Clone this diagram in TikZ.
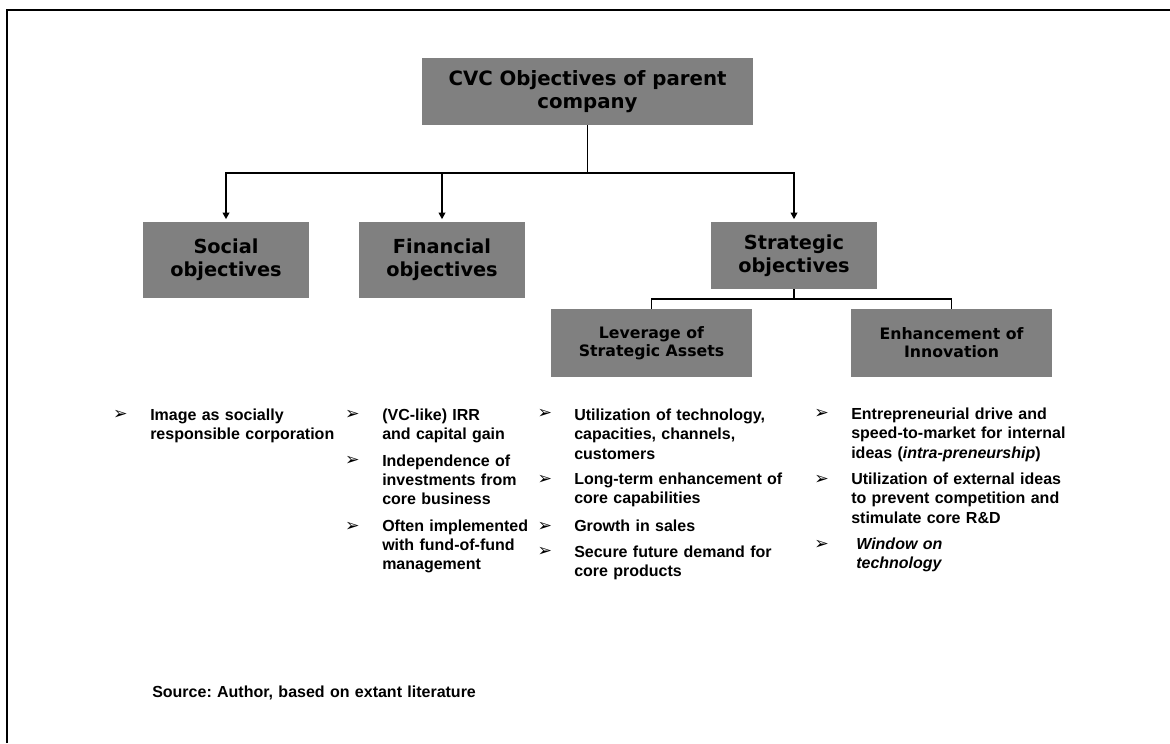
\documentclass[tikz,border=0pt]{standalone}
\usepackage{fontspec}
\setmainfont{Liberation Sans}
\newfontfamily\boxfont{DejaVu Sans}
\newfontfamily\symfont{DejaVu Sans}
\usetikzlibrary{arrows.meta}
\definecolor{boxgray}{HTML}{808080}
\newdimen\pxu \pxu=0.75pt
\frenchspacing

\begin{document}
\begin{tikzpicture}[x=0.75pt,y=-0.75pt,
  box/.style={fill=boxgray, inner sep=0pt, align=center},
  bigbox/.style={box, font=\boxfont\bfseries\fontsize{14.8}{17.25}\selectfont},
  midbox/.style={box, font=\boxfont\bfseries\fontsize{14.5}{17.25}\selectfont},
  smallbox/.style={box, font=\boxfont\bfseries\fontsize{11.8}{13.5}\selectfont},
  conn/.style={line width=1.25pt},
  subconn/.style={line width=1pt},
  tip/.style={-{Triangle[width=5pt,length=5pt]}, shorten >=2.5*\pxu},
  bulletmark/.style={inner sep=0pt, font=\symfont\fontsize{13}{13}\selectfont},
  btext/.style={anchor=base west, inner sep=0pt, text width=260pt, align=left,
    font=\bfseries\fontsize{12}{14.6}\selectfont},
]
\useasboundingbox (0,0) rectangle (1170,743);

% outer frame
\draw[line width=1.75pt] (7.3,743) -- (7.3,10.3) -- (1170,10.3);

% boxes
\node[bigbox, minimum width=331*\pxu, minimum height=67*\pxu] (top) at (587.5,91.5)
  {CVC Objectives of parent\\company};
\node[midbox, minimum width=166*\pxu, minimum height=76*\pxu] (social) at (226,260)
  {Social\\objectives};
\node[midbox, minimum width=166*\pxu, minimum height=76*\pxu] (financial) at (442,260)
  {Financial\\objectives};
\node[midbox, minimum width=166*\pxu, minimum height=67*\pxu] (strategic) at (794,255.5)
  {Strategic\\objectives};
\node[smallbox, minimum width=201*\pxu, minimum height=68*\pxu] (leverage) at (651.5,343)
  {Leverage of\\Strategic Assets};
\node[smallbox, minimum width=201*\pxu, minimum height=68*\pxu] (enhance) at (951.5,343)
  {Enhancement of\\Innovation};

% connectors
\coordinate (bus) at (587.5,173.3);
\draw[conn] (top.south) -- (bus);
\draw[conn,tip] (bus) -| (social.north);
\draw[conn,tip] (bus) -| (financial.north);
\draw[conn,tip] (bus) -| (strategic.north);

\coordinate (sbus) at (794,299);
\draw[subconn] (strategic.south) -- (sbus);
\draw[subconn] (sbus) -| (leverage.north);
\draw[subconn] (sbus) -| (enhance.north);

% social objectives
\node[bulletmark] (sm1) at (120.5,415) {➢};
\node[btext] (st1) at (150,420.5) {Image as socially\\responsible corporation};

% financial objectives
\node[bulletmark] (fm1) at (352.5,415) {➢};
\node[btext] (ft1) at (382,420.5) {(VC-like) IRR\\and capital gain};
\node[bulletmark] (fm2) at (352.5,461) {➢};
\node[btext] (ft2) at (382,466) {Independence of\\investments from\\core business};
\node[bulletmark] (fm3) at (352.5,527) {➢};
\node[btext] (ft3) at (382,531) {Often implemented\\with fund-of-fund\\management};

% leverage of strategic assets
\node[bulletmark] (lm1) at (545,414) {➢};
\node[btext] (lt1) at (574,420.5) {Utilization of technology,\\capacities, channels,\\customers};
\node[bulletmark] (lm2) at (545,480) {➢};
\node[btext] (lt2) at (574,484.5) {Long-term enhancement of\\core capabilities};
\node[bulletmark] (lm3) at (545,527) {➢};
\node[btext] (lt3) at (574,531) {Growth in sales};
\node[bulletmark] (lm4) at (545,552) {➢};
\node[btext] (lt4) at (574,557) {Secure future demand for\\core products};

% enhancement of innovation
\node[bulletmark] (em1) at (821.7,414) {➢};
\node[btext] (et1) at (851,419.5) {Entrepreneurial drive and\\speed-to-market for internal\\ideas (\textit{intra-preneurship})};
\node[bulletmark] (em2) at (821.7,480) {➢};
\node[btext] (et2) at (851,484.5) {Utilization of external ideas\\to prevent competition and\\stimulate core R\&D};
\node[bulletmark] (em3) at (821.7,545) {➢};
\node[btext] (et3) at (856,549.5) {\itshape Window on\\technology};

% source line
\node[btext] (src) at (152,697.5) {Source: Author, based on extant literature};
\end{tikzpicture}
\end{document}
